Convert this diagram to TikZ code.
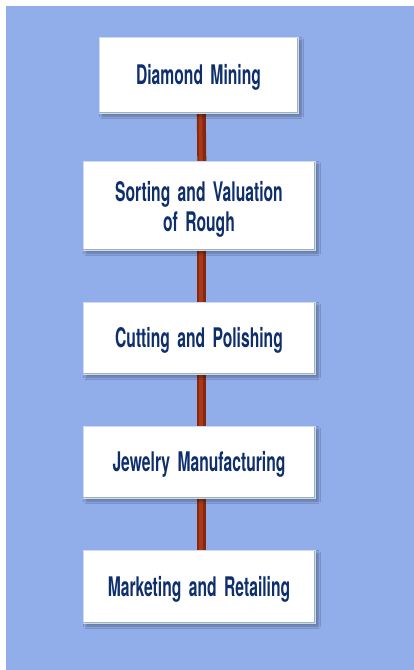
\documentclass[tikz,border=0pt]{standalone}
\usepackage{fontspec}
\usepackage{graphicx}
\setmainfont{TeX Gyre Heros}[WordSpace=1.7]
\usetikzlibrary{shadows.blur,backgrounds}
\definecolor{bgblue}{HTML}{91AEEB}
\definecolor{navy}{HTML}{0E2F6C}
\definecolor{bardark}{HTML}{862810}
\definecolor{barlight}{HTML}{A83A18}
\definecolor{edgegray}{HTML}{A2B4AE}
\definecolor{softedge}{HTML}{CCDAF6}
\newcommand{\condtxt}[1]{\scalebox{0.58}[1]{\fontsize{27}{30.5}\selectfont\bfseries #1}}
\tikzset{
  stepbox/.style={rectangle, fill=white, draw=softedge, line width=1pt,
    inner sep=0pt, outer sep=0pt,
    blur shadow={shadow xshift=3pt, shadow yshift=-3pt, shadow blur radius=2.5pt, shadow blur steps=6, shadow opacity=35}},
  steptext/.style={inner sep=0pt, outer sep=0pt, text=navy, anchor=base},
  boxedge/.style={draw=edgegray, line width=1.4pt},
  barout/.style={draw=bardark, line width=9pt},
  barin/.style={draw=barlight, line width=3.5pt}
}
\begin{document}
\begin{tikzpicture}[x=1pt,y=-1pt]
\useasboundingbox (0,0) rectangle (414,670);
\node[stepbox, minimum width=199pt, minimum height=76pt] (b1) at (198.5,75) {};
\node[stepbox, minimum width=232pt, minimum height=89pt] (b2) at (199,205.5) {};
\node[stepbox, minimum width=232pt, minimum height=72pt] (b3) at (199,338) {};
\node[stepbox, minimum width=232pt, minimum height=72pt] (b4) at (199,462) {};
\node[stepbox, minimum width=232pt, minimum height=73pt] (b5) at (199,586.5) {};
\node[steptext] (t1) at ([yshift=-9.5pt]b1.center) {\condtxt{Diamond Mining}};
\node[steptext] (t2a) at ([yshift=4.5pt]b2.center) {\condtxt{Sorting and Valuation}};
\node[steptext] (t2b) at ([yshift=-26pt]b2.center) {\condtxt{of Rough}};
\node[steptext] (t3) at ([yshift=-9.5pt]b3.center) {\condtxt{Cutting and Polishing}};
\node[steptext] (t4) at ([yshift=-9.5pt]b4.center) {\condtxt{Jewelry Manufacturing}};
\node[steptext] (t5) at ([yshift=-9.5pt]b5.center) {\condtxt{Marketing and Retailing}};
\foreach \b in {b1,b2,b3,b4,b5}{
  \draw[boxedge] ([xshift=-0.7pt,yshift=-0.5pt]\b.north east) -- ([xshift=-0.7pt,yshift=0.7pt]\b.south east) -- ([yshift=0.7pt]\b.south west);
}
\begin{scope}[on background layer]
  \fill[bgblue] (6,6) rectangle (414,670);
  \foreach \a/\c in {b1/b2,b2/b3,b3/b4,b4/b5}{
    \draw[barout] ([xshift=2.8pt]\a.south) -- ([xshift=2.8pt]\c.north);
    \draw[barin] ([xshift=2.0pt]\a.south) -- ([xshift=2.0pt]\c.north);
  }
\end{scope}
\end{tikzpicture}
\end{document}
